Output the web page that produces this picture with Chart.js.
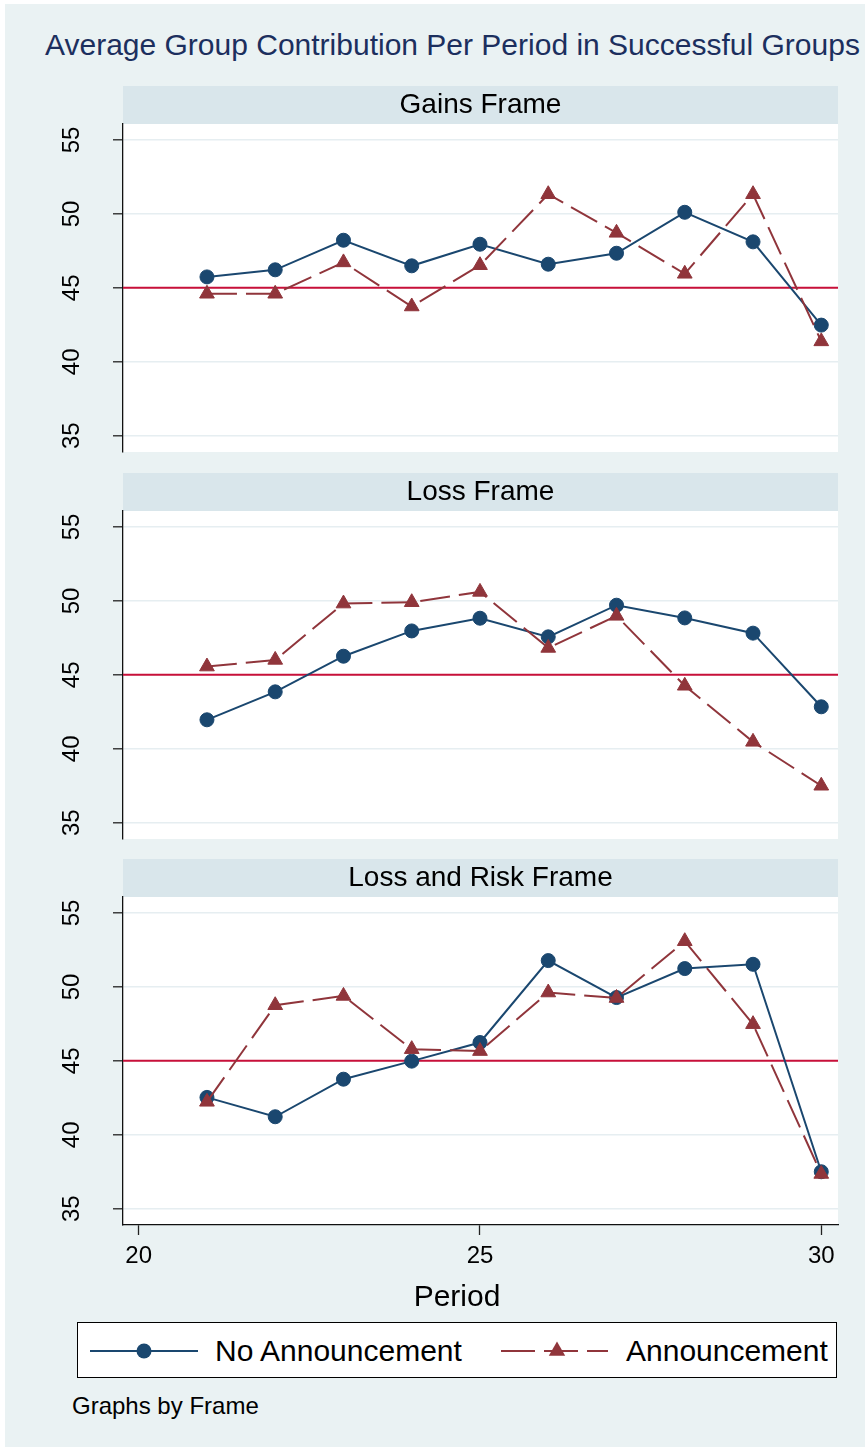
<!DOCTYPE html>
<html>
<head>
<meta charset="utf-8">
<title>Average Group Contribution Per Period in Successful Groups</title>
<script src="https://cdn.jsdelivr.net/npm/chart.js@4.4.1/dist/chart.umd.min.js"></script>
<style>
  html, body { margin: 0; padding: 0; background: #ffffff; }
  #page { position: relative; width: 865px; height: 1447px; overflow: hidden;
          font-family: "Liberation Sans", Arial, Helvetica, sans-serif; }
  #bg { position: absolute; left: 5px; top: 4px; width: 860px; height: 1443px; background: #EAF2F3; }
  canvas { position: absolute; left: 0; }
  .txt { position: absolute; white-space: nowrap; line-height: 1; color: #000; }
  #title { left: 45px; top: 30px; font-size: 30px; color: #1C2F5E; }
  #xtitle { left: 0; width: 914px; text-align: center; top: 1281px; font-size: 30px; }
  #legendBox { position: absolute; left: 77px; top: 1322px; width: 758px; height: 54px;
               border: 1.5px solid #000; background: #fff; }
  #legendKeys { position: absolute; left: 77px; top: 1322px; }
  #note { left: 72px; top: 1394px; font-size: 24px; }
</style>
</head>
<body>
<div id="page">
  <div id="bg"></div>
  <div id="title" class="txt">Average Group Contribution Per Period in Successful Groups</div>
  <canvas id="panel0" width="865" height="394"></canvas>
  <canvas id="panel1" width="865" height="394"></canvas>
  <canvas id="panel2" width="865" height="434"></canvas>
  <div id="xtitle" class="txt">Period</div>
  <div id="legendBox"></div>
  <svg id="legendKeys" width="760" height="58" viewBox="0 0 760 58">
    <line x1="13" y1="29" x2="121" y2="29" stroke="#1A476F" stroke-width="2"/>
    <circle cx="67" cy="29" r="7.5" fill="#1A476F"/>
    <line x1="424" y1="29" x2="531" y2="29" stroke="#90353B" stroke-width="2" stroke-dasharray="34 9"/>
    <polygon points="480,19.5 471.8,33.8 488.2,33.8" fill="#90353B"/>
  </svg>
  <div class="txt" id="lg1" style="left:215px; top:1336px; font-size:30px;">No Announcement</div>
  <div class="txt" id="lg2" style="left:626px; top:1336px; font-size:30px;">Announcement</div>
  <div id="note" class="txt">Graphs by Frame</div>
</div>
<script>
// ---- data -------------------------------------------------------------
const periods = [21, 22, 23, 24, 25, 26, 27, 28, 29, 30];
const xTickValues = [20, 25, 30];
const yTickValues = [35, 40, 45, 50, 55];
const frameNames = ['Gains Frame', 'Loss Frame', 'Loss and Risk Frame'];
const seriesNames = ['No Announcement', 'Announcement'];
const referenceLevel = 45;

const gainsNoAnnouncement = [45.74, 46.22, 48.22, 46.49, 47.95, 46.60, 47.34, 50.11, 48.11, 42.48];
const gainsAnnouncement   = [44.60, 44.60, 46.72, 43.74, 46.53, 51.33, 48.72, 45.95, 51.33, 41.38];
const lossNoAnnouncement  = [41.96, 43.85, 46.26, 47.97, 48.83, 47.57, 49.71, 48.85, 47.82, 42.84];
const lossAnnouncement    = [45.56, 46.01, 49.82, 49.91, 50.61, 46.82, 48.99, 44.26, 40.47, 37.50];
const riskNoAnnouncement  = [42.53, 41.22, 43.76, 44.98, 46.24, 51.78, 49.28, 51.24, 51.53, 37.50];
const riskAnnouncement    = [42.23, 48.76, 49.39, 45.79, 45.66, 49.62, 49.25, 53.09, 47.48, 37.35];

// ---- styling ----------------------------------------------------------
const NAVY = '#1A476F';
const MAROON = '#90353B';
const REFLINE = '#C8103A';
const STRIP = '#D9E6EB';
const GRID = '#E6EEF1';
const FONT = "'Liberation Sans', Arial, Helvetica, sans-serif";
const X_MIN = 19.77, X_MAX = 30.245;
const Y_MIN = 33.9, Y_MAX = 56.08;
const STRIP_H = 38;

Chart.defaults.font.family = FONT;
Chart.defaults.color = '#000';

const panelSeries = [
  [gainsNoAnnouncement, gainsAnnouncement],
  [lossNoAnnouncement, lossAnnouncement],
  [riskNoAnnouncement, riskAnnouncement]
];
const chartTops = [124, 511, 897];

// strip band above each plot and white plot region
const panelBackground = {
  id: 'panelBackground',
  beforeDraw(chart) {
    const { ctx, chartArea: a } = chart;
    ctx.save();
    ctx.fillStyle = STRIP;
    ctx.fillRect(a.left, a.top - STRIP_H, a.right - a.left, STRIP_H);
    ctx.fillStyle = '#ffffff';
    ctx.fillRect(a.left, a.top, a.right - a.left, a.bottom - a.top);
    ctx.restore();
  }
};

const toPoints = (values) => periods.map((p, i) => ({ x: p, y: values[i] }));

function makePanel(idx) {
  const isBottom = idx === frameNames.length - 1;
  const canvas = document.getElementById('panel' + idx);
  canvas.style.top = (chartTops[idx] - 46) + 'px';
  const [noAnn, ann] = panelSeries[idx];

  return new Chart(canvas, {
    type: 'line',
    data: {
      datasets: [
        {
          label: seriesNames[1],
          data: toPoints(ann),
          borderColor: MAROON,
          backgroundColor: MAROON,
          borderWidth: 2,
          borderDash: [30, 9],
          pointStyle: 'triangle',
          pointRadius: 8.5,
          pointBorderWidth: 1,
          pointBackgroundColor: MAROON,
          pointBorderColor: MAROON,
          tension: 0,
          order: 1
        },
        {
          label: seriesNames[0],
          data: toPoints(noAnn),
          borderColor: NAVY,
          backgroundColor: NAVY,
          borderWidth: 2,
          pointStyle: 'circle',
          pointRadius: 7,
          pointBorderWidth: 1,
          pointBackgroundColor: NAVY,
          pointBorderColor: NAVY,
          tension: 0,
          order: 2
        },
        {
          label: 'reference',
          data: [{ x: X_MIN, y: referenceLevel }, { x: X_MAX, y: referenceLevel }],
          borderColor: REFLINE,
          borderWidth: 2,
          pointRadius: 0,
          order: 3
        }
      ]
    },
    options: {
      responsive: false,
      devicePixelRatio: 1,
      animation: false,
      events: [],
      layout: { padding: { top: 8, left: 0, right: 27, bottom: isBottom ? 0 : 20 } },
      plugins: {
        legend: { display: false },
        tooltip: { enabled: false },
        title: {
          display: true,
          text: frameNames[idx],
          fullSize: false,
          color: '#000',
          font: { size: 28, weight: 'normal', lineHeight: 1.2 },
          padding: { top: 2.4, bottom: 2.0 }
        }
      },
      scales: {
        x: {
          type: 'linear',
          display: isBottom,
          min: X_MIN,
          max: X_MAX,
          afterBuildTicks: (s) => { s.ticks = xTickValues.map(v => ({ value: v })); },
          afterFit: (s) => { s.height = isBottom ? 60 : 0; s.paddingLeft = 0; s.paddingRight = 0; },
          grid: { drawOnChartArea: false, drawTicks: true, tickLength: 10, tickColor: '#222', tickWidth: 1.3 },
          border: { display: true, color: '#111', width: 1.3 },
          ticks: { font: { size: 24 }, color: '#000', padding: 7, maxRotation: 0, minRotation: 0,
                   callback: (v) => String(v) }
        },
        y: {
          type: 'linear',
          min: Y_MIN,
          max: Y_MAX,
          afterBuildTicks: (s) => { s.ticks = yTickValues.map(v => ({ value: v })); },
          afterFit: (s) => { s.width = 123; s.paddingTop = 0; s.paddingBottom = 0; },
          grid: { color: GRID, lineWidth: 1.6, drawTicks: true, tickLength: 10, tickColor: '#222', tickWidth: 1.3 },
          border: { display: true, color: '#111', width: 1.3 },
          ticks: { font: { size: 24 }, color: '#000', padding: 27, minRotation: 90, maxRotation: 90,
                   crossAlign: 'center', callback: (v) => String(v) }
        }
      }
    },
    plugins: [panelBackground]
  });
}

frameNames.forEach((_, i) => makePanel(i));
</script>
</body>
</html>
